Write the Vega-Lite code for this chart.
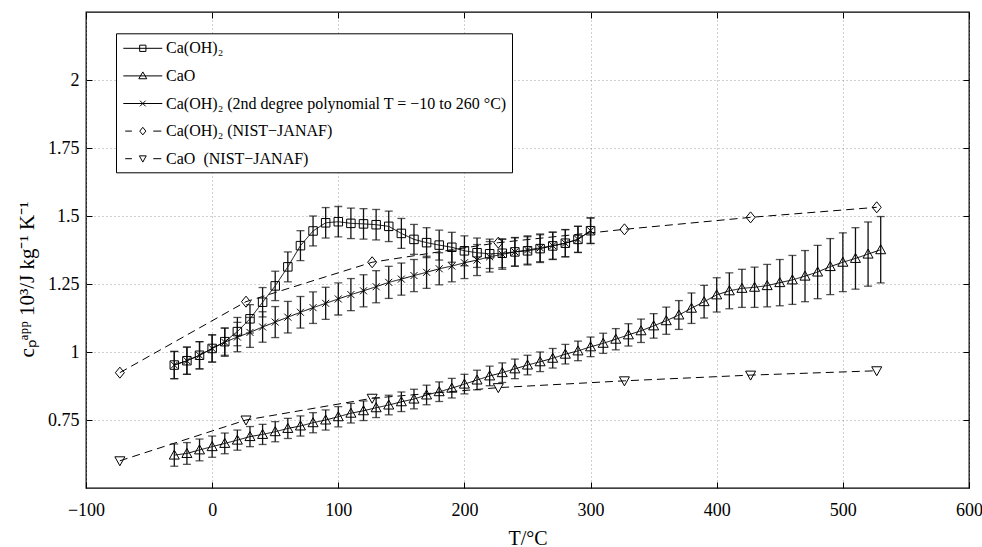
{
"$schema": "https://vega.github.io/schema/vega-lite/v6.json",
"width": 883, "height": 476,
"autosize": {"type": "none"},
"padding": {"left": 86, "top": 12, "right": 13, "bottom": 59},
"background": "white",
"config": {"view": {"stroke": "black", "strokeWidth": 1.3}, "font": "Liberation Serif, Times New Roman, Times, serif"},
"data": {"values": [
{"s":"a","T":-30,"c":0.952,"e":0.05},{"s":"a","T":-20,"c":0.968,"e":0.05},{"s":"a","T":-10,"c":0.988,"e":0.05},{"s":"a","T":0,"c":1.013,"e":0.05},{"s":"a","T":10,"c":1.038,"e":0.05},{"s":"a","T":20,"c":1.075,"e":0.052},{"s":"a","T":30,"c":1.122,"e":0.052},{"s":"a","T":40,"c":1.183,"e":0.054},{"s":"a","T":50,"c":1.243,"e":0.054},{"s":"a","T":60,"c":1.313,"e":0.055},{"s":"a","T":70,"c":1.391,"e":0.055},{"s":"a","T":80,"c":1.445,"e":0.055},{"s":"a","T":90,"c":1.475,"e":0.056},{"s":"a","T":100,"c":1.479,"e":0.056},{"s":"a","T":110,"c":1.473,"e":0.056},{"s":"a","T":120,"c":1.471,"e":0.056},{"s":"a","T":130,"c":1.468,"e":0.056},{"s":"a","T":140,"c":1.462,"e":0.056},{"s":"a","T":150,"c":1.436,"e":0.055},{"s":"a","T":160,"c":1.414,"e":0.055},{"s":"a","T":170,"c":1.402,"e":0.055},{"s":"a","T":180,"c":1.393,"e":0.055},{"s":"a","T":190,"c":1.385,"e":0.055},{"s":"a","T":200,"c":1.372,"e":0.055},{"s":"a","T":210,"c":1.365,"e":0.054},{"s":"a","T":220,"c":1.361,"e":0.054},{"s":"a","T":230,"c":1.363,"e":0.053},{"s":"a","T":240,"c":1.368,"e":0.052},{"s":"a","T":250,"c":1.372,"e":0.052},{"s":"a","T":260,"c":1.38,"e":0.051},{"s":"a","T":270,"c":1.39,"e":0.05},{"s":"a","T":280,"c":1.4,"e":0.05},{"s":"a","T":290,"c":1.414,"e":0.048},{"s":"a","T":300,"c":1.446,"e":0.047},
{"s":"c","T":-30,"c":0.952,"e":0.05},{"s":"c","T":-20,"c":0.968,"e":0.05},{"s":"c","T":-10,"c":0.988,"e":0.05},{"s":"c","T":0,"c":1.013,"e":0.05},{"s":"c","T":10,"c":1.036,"e":0.052},{"s":"c","T":20,"c":1.055,"e":0.054},{"s":"c","T":30,"c":1.072,"e":0.055},{"s":"c","T":40,"c":1.092,"e":0.056},{"s":"c","T":50,"c":1.11,"e":0.057},{"s":"c","T":60,"c":1.128,"e":0.058},{"s":"c","T":70,"c":1.146,"e":0.058},{"s":"c","T":80,"c":1.163,"e":0.058},{"s":"c","T":90,"c":1.179,"e":0.059},{"s":"c","T":100,"c":1.195,"e":0.059},{"s":"c","T":110,"c":1.211,"e":0.059},{"s":"c","T":120,"c":1.225,"e":0.059},{"s":"c","T":130,"c":1.24,"e":0.059},{"s":"c","T":140,"c":1.256,"e":0.059},{"s":"c","T":150,"c":1.268,"e":0.059},{"s":"c","T":160,"c":1.281,"e":0.059},{"s":"c","T":170,"c":1.293,"e":0.059},{"s":"c","T":180,"c":1.306,"e":0.059},{"s":"c","T":190,"c":1.316,"e":0.058},{"s":"c","T":200,"c":1.328,"e":0.058},{"s":"c","T":210,"c":1.338,"e":0.057},{"s":"c","T":220,"c":1.35,"e":0.056},{"s":"c","T":230,"c":1.359,"e":0.055},{"s":"c","T":240,"c":1.368,"e":0.053},{"s":"c","T":250,"c":1.375,"e":0.052},{"s":"c","T":260,"c":1.383,"e":0.051},{"s":"c","T":270,"c":1.391,"e":0.05},{"s":"c","T":280,"c":1.4,"e":0.05},{"s":"c","T":290,"c":1.414,"e":0.048},{"s":"c","T":300,"c":1.446,"e":0.047},
{"s":"b","T":-30,"c":0.621,"e":0.041},{"s":"b","T":-20,"c":0.627,"e":0.04},{"s":"b","T":-10,"c":0.64,"e":0.04},{"s":"b","T":0,"c":0.652,"e":0.039},{"s":"b","T":10,"c":0.664,"e":0.038},{"s":"b","T":20,"c":0.676,"e":0.037},{"s":"b","T":30,"c":0.689,"e":0.037},{"s":"b","T":40,"c":0.697,"e":0.037},{"s":"b","T":50,"c":0.707,"e":0.037},{"s":"b","T":60,"c":0.719,"e":0.037},{"s":"b","T":70,"c":0.728,"e":0.037},{"s":"b","T":80,"c":0.74,"e":0.037},{"s":"b","T":90,"c":0.75,"e":0.037},{"s":"b","T":100,"c":0.762,"e":0.037},{"s":"b","T":110,"c":0.775,"e":0.036},{"s":"b","T":120,"c":0.784,"e":0.036},{"s":"b","T":130,"c":0.795,"e":0.036},{"s":"b","T":140,"c":0.805,"e":0.036},{"s":"b","T":150,"c":0.817,"e":0.036},{"s":"b","T":160,"c":0.827,"e":0.036},{"s":"b","T":170,"c":0.842,"e":0.036},{"s":"b","T":180,"c":0.854,"e":0.036},{"s":"b","T":190,"c":0.867,"e":0.036},{"s":"b","T":200,"c":0.882,"e":0.036},{"s":"b","T":210,"c":0.897,"e":0.036},{"s":"b","T":220,"c":0.912,"e":0.036},{"s":"b","T":230,"c":0.924,"e":0.036},{"s":"b","T":240,"c":0.938,"e":0.036},{"s":"b","T":250,"c":0.952,"e":0.036},{"s":"b","T":260,"c":0.964,"e":0.036},{"s":"b","T":270,"c":0.977,"e":0.036},{"s":"b","T":280,"c":0.992,"e":0.036},{"s":"b","T":290,"c":1.004,"e":0.036},{"s":"b","T":300,"c":1.019,"e":0.036},{"s":"b","T":310,"c":1.032,"e":0.037},{"s":"b","T":320,"c":1.047,"e":0.039},{"s":"b","T":330,"c":1.063,"e":0.041},{"s":"b","T":340,"c":1.078,"e":0.043},{"s":"b","T":350,"c":1.096,"e":0.045},{"s":"b","T":360,"c":1.115,"e":0.05},{"s":"b","T":370,"c":1.136,"e":0.053},{"s":"b","T":380,"c":1.161,"e":0.056},{"s":"b","T":390,"c":1.185,"e":0.06},{"s":"b","T":400,"c":1.21,"e":0.063},{"s":"b","T":410,"c":1.225,"e":0.066},{"s":"b","T":420,"c":1.234,"e":0.07},{"s":"b","T":430,"c":1.238,"e":0.074},{"s":"b","T":440,"c":1.244,"e":0.078},{"s":"b","T":450,"c":1.255,"e":0.085},{"s":"b","T":460,"c":1.265,"e":0.09},{"s":"b","T":470,"c":1.279,"e":0.094},{"s":"b","T":480,"c":1.294,"e":0.098},{"s":"b","T":490,"c":1.314,"e":0.103},{"s":"b","T":500,"c":1.33,"e":0.108},{"s":"b","T":510,"c":1.344,"e":0.113},{"s":"b","T":520,"c":1.36,"e":0.118},{"s":"b","T":530,"c":1.376,"e":0.122},
{"s":"d","T":-73.15,"c":0.924},{"s":"d","T":26.85,"c":1.185},{"s":"d","T":126.85,"c":1.33},{"s":"d","T":226.85,"c":1.402},{"s":"d","T":326.85,"c":1.451},{"s":"d","T":426.85,"c":1.495},{"s":"d","T":526.85,"c":1.532},
{"s":"e","T":-73.15,"c":0.6},{"s":"e","T":26.85,"c":0.75},{"s":"e","T":126.85,"c":0.83},{"s":"e","T":226.85,"c":0.869},{"s":"e","T":326.85,"c":0.894},{"s":"e","T":426.85,"c":0.915},{"s":"e","T":526.85,"c":0.931}
]},
"layer": [
{
"mark": {"type": "line", "color": "black", "strokeWidth": 1},
"encoding": {
"x": {"field": "T", "type": "quantitative", "scale": {"domain": [-100, 600], "nice": false, "zero": false},
 "axis": {"orient": "bottom", "values": [-100,0,100,200,300,400,500,600], "format": "d", "labelFlush": false, "grid": true, "gridColor": "#888", "gridDash": [1,3], "gridWidth": 0.8, "domain": false, "ticks": true, "tickSize": -6, "tickColor": "black", "labelFontSize": 18, "labelColor": "black", "labelPadding": 19, "title": "T/°C", "titleFontSize": 20, "titleFontWeight": "normal", "titleColor": "black", "titleX": 441.5, "titleY": 56, "titleBaseline": "alphabetic", "titleAlign": "center"}},
"y": {"field": "c", "type": "quantitative", "scale": {"domain": [0.5, 2.25], "nice": false, "zero": false},
 "axis": {"orient": "left", "values": [0.75,1,1.25,1.5,1.75,2], "format": ".3~f", "labelFlush": false, "grid": true, "gridColor": "#888", "gridDash": [1,3], "gridWidth": 0.8, "domain": false, "ticks": true, "tickSize": -6, "tickColor": "black", "labelFontSize": 18, "labelColor": "black", "labelPadding": 13, "title": "cₚᵃᵖᵖ 10³/J kg⁻¹ K⁻¹", "titleFontSize": 21, "titleFontWeight": "normal", "titleColor": "black", "titleX": -53, "titleY": 267, "titleAngle": -90, "titleBaseline": "alphabetic", "titleAlign": "center"}},
"detail": {"field": "s"},
"strokeDash": {"field": "s", "type": "nominal", "scale": {"domain": ["a","b","c","d","e"], "range": [[1,0],[1,0],[1,0],[8,5],[8,5]]}, "legend": null}
}
},
{
"transform": [{"filter": "isValid(datum.e)"}],
"mark": {"type": "errorbar", "color": "#111", "thickness": 1.3, "ticks": {"size": 8}},
"encoding": {
"x": {"field": "T", "type": "quantitative", "axis": null},
"y": {"field": "c", "type": "quantitative", "axis": null},
"yError": {"field": "e"}
}
},
{
"mark": {"type": "point", "filled": false, "stroke": "black", "strokeWidth": 1, "size": 100, "opacity": 1},
"encoding": {
"x": {"field": "T", "type": "quantitative", "axis": {"orient": "top", "values": [-100,0,100,200,300,400,500,600], "labels": false, "title": null, "grid": false, "domain": false, "ticks": true, "tickSize": -6, "tickColor": "black"}},
"y": {"field": "c", "type": "quantitative", "axis": {"orient": "right", "values": [0.75,1,1.25,1.5,1.75,2], "labels": false, "title": null, "grid": false, "domain": false, "ticks": true, "tickSize": -6, "tickColor": "black"}},
"shape": {"field": "s", "type": "nominal", "legend": null,
 "scale": {"domain": ["a","b","c","d","e"], "range": ["M-0.85,-0.85H0.85V0.85H-0.85Z", "M0,-1L1,0.8H-1Z", "M-0.7,-0.7L0.7,0.7M-0.7,0.7L0.7,-0.7", "M0,-1.1L0.9,0L0,1.1L-0.9,0Z", "M0,1L1,-0.8H-1Z"]}}
}
},
{
"mark": {"type": "point", "filled": false, "stroke": "black", "strokeWidth": 1, "size": 361, "opacity": 0},
"encoding": {
"x": {"field": "T", "type": "quantitative", "axis": null},
"y": {"field": "c", "type": "quantitative", "axis": null},
"shape": {"field": "s", "type": "nominal",
 "scale": {"domain": ["a","b","c","d","e"], "range": ["M-2.05,0H2.05M-0.33,-0.33H0.33V0.33H-0.33Z", "M-2.05,0H2.05M0,-0.42L0.42,0.3H-0.42Z", "M-2.05,0H2.05M-0.3,-0.3L0.3,0.3M-0.3,0.3L0.3,-0.3", "M-1.85,0H-1.15M1.1,0H1.95M0,-0.4L0.32,0L0,0.4L-0.32,0Z", "M-1.85,0H-1.15M1.1,0H1.95M-0.36,-0.3H0.36L0,0.36Z"]},
 "legend": {"title": null, "orient": "none", "legendX": 30, "legendY": 21.3, "direction": "vertical", "strokeColor": "black", "fillColor": "white", "padding": 5, "rowPadding": 9.6, "symbolSize": 361, "symbolOffset": 11.8, "labelOffset": 13.3, "labelFontSize": 16, "labelColor": "black", "labelLimit": 800, "symbolOpacity": 1, "symbolStrokeColor": "black", "symbolStrokeWidth": 1, "symbolFillColor": "transparent",
  "labelExpr": "datum.value === 'a' ? 'Ca(OH)₂' : datum.value === 'b' ? 'CaO' : datum.value === 'c' ? 'Ca(OH)₂ (2nd degree polynomial T = −10 to 260 °C)\u00a0\u00a0\u00a0\u00a0\u00a0\u00a0' : datum.value === 'd' ? 'Ca(OH)₂ (NIST−JANAF)' : 'CaO\u00a0 (NIST−JANAF)'"}}
}
}
],
"resolve": {"axis": {"x": "independent", "y": "independent"}, "scale": {"shape": "independent"}}
}
